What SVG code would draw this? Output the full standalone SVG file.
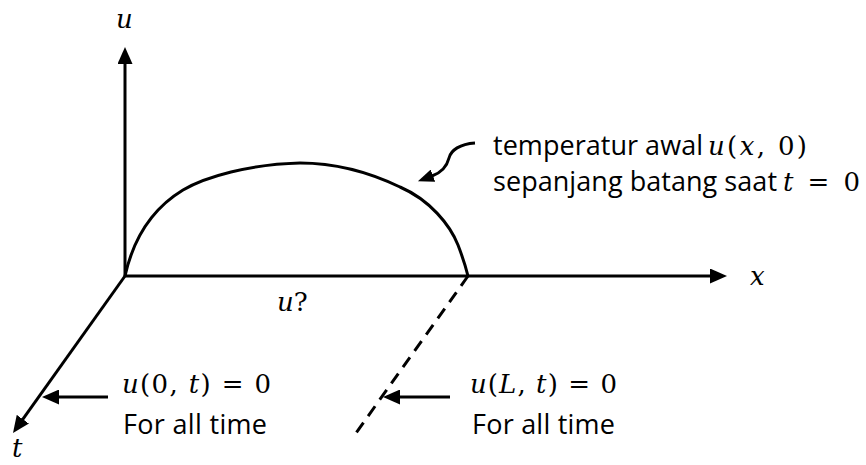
<svg xmlns="http://www.w3.org/2000/svg" width="866" height="465" viewBox="0 0 866 465">
<style>
.ln{stroke:#000;stroke-width:3;fill:none}
.tx{font-family:"Open Sans","Noto Sans",sans-serif;font-size:27px;fill:#000}
.mt{font-family:"DejaVu Serif","Liberation Serif",serif;font-size:26px;fill:#000}
.i{font-style:italic}
</style>
<defs>
<marker id="ah" viewBox="0 0 17 15" refX="7" refY="7.5" markerWidth="17" markerHeight="15" markerUnits="userSpaceOnUse" orient="auto">
<path d="M0,0 L17,7.5 L0,15 Z" fill="#000"/>
</marker>
<marker id="ah2" viewBox="0 0 16 13" refX="1" refY="6.5" markerWidth="16" markerHeight="13" markerUnits="userSpaceOnUse" orient="auto">
<path d="M0,0 L16,6.5 L0,13 Z" fill="#000"/>
</marker>
</defs>
<g id="connectors">
<line id="u-axis" class="ln" x1="125" y1="277" x2="125" y2="57" marker-end="url(#ah)"/>
<line id="x-axis" class="ln" x1="124" y1="276" x2="717" y2="276" marker-end="url(#ah)"/>
<line id="t-axis" class="ln" x1="125" y1="276" x2="18.8" y2="424.9" marker-end="url(#ah)"/>
<line id="dashed" class="ln" x1="468" y1="276" x2="356" y2="433" stroke-dasharray="12,8"/>
<line id="arrow-left" class="ln" x1="108" y1="397" x2="52" y2="397" marker-end="url(#ah)"/>
<line id="arrow-right" class="ln" x1="450" y1="397" x2="393" y2="397" marker-end="url(#ah)"/>
<path id="arrow-curl" class="ln" stroke-width="2" d="M475,143 C460,144 451,150 449,158 C447,166 443,172 432,176" marker-end="url(#ah2)"/>
</g>
<g id="curve">
<path class="ln" d="M125,276 C133,240 150,210 183,190 C205,177 250,164 300,163 C340,163 375,175 400,187 C430,200 450,225 458,245 C463,258 466,268 468,276"/>
</g>
<g id="label-u"><text class="mt i" x="116" y="28">u</text></g>
<g id="label-x"><text class="mt i" x="750" y="285">x</text></g>
<g id="label-t"><text class="mt i" x="12" y="457">t</text></g>
<g id="label-unknown"><text class="mt" x="277" y="311"><tspan class="i">u</tspan>?</text></g>
<g id="label-initial">
<text class="tx" x="493" y="155" textLength="210" lengthAdjust="spacing">temperatur awal</text>
<text class="mt" x="708" y="155" textLength="99" lengthAdjust="spacing"><tspan class="i">u</tspan>(<tspan class="i">x</tspan>, 0)</text>
<text class="tx" x="493" y="191" textLength="284" lengthAdjust="spacing">sepanjang batang saat</text>
<text class="mt" x="783" y="191" textLength="77" lengthAdjust="spacing"><tspan class="i">t</tspan> = 0</text>
</g>
<g id="label-left">
<text class="mt" x="122" y="393" textLength="149" lengthAdjust="spacing"><tspan class="i">u</tspan>(0, <tspan class="i">t</tspan>) = 0</text>
<text class="tx" x="123" y="434" textLength="144" lengthAdjust="spacing">For all time</text>
</g>
<g id="label-right">
<text class="mt" x="470" y="393" textLength="147" lengthAdjust="spacing"><tspan class="i">u</tspan>(<tspan class="i">L</tspan>, <tspan class="i">t</tspan>) = 0</text>
<text class="tx" x="472" y="434" textLength="143" lengthAdjust="spacing">For all time</text>
</g>
</svg>
